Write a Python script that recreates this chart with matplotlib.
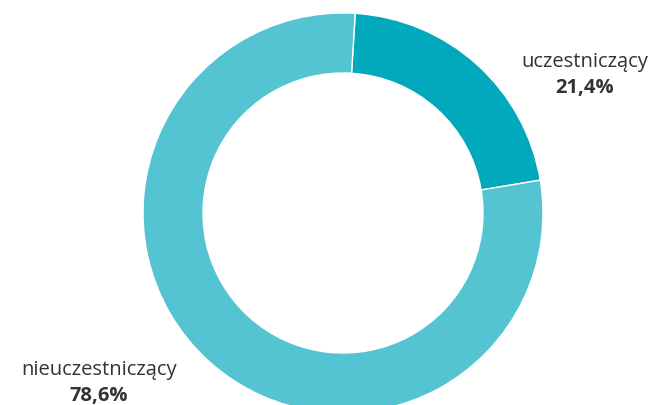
import matplotlib.pyplot as plt

labels = ["uczestniczący", "nieuczestniczący"]
values = [21.4, 78.6]
pct_text = ["21,4%", "78,6%"]
colors = ["#02a9bc", "#55c4d2"]

fig = plt.figure(figsize=(6.55, 4.05), dpi=100)
ax = fig.add_axes([0, 0, 1, 1])

# donut, drawn in pixel coordinates
ax.pie(values, colors=colors, startangle=86.5, counterclock=False,
       center=(343, 192), radius=200, frame=True,
       wedgeprops=dict(width=60, edgecolor="white", linewidth=1))
ax.set_xlim(0, 655)
ax.set_ylim(0, 405)
ax.set_aspect("equal")
ax.axis("off")

font = "Open Sans"
txt_col = "#333333"
fs = 14.5
ax.text(585, 343, labels[0], ha="center", va="center", fontsize=fs,
        family=font, color=txt_col)
ax.text(585, 317, pct_text[0], ha="center", va="center", fontsize=fs,
        family=font, color=txt_col, fontweight="bold")
ax.text(99, 35, labels[1], ha="center", va="center", fontsize=fs,
        family=font, color=txt_col)
ax.text(99, 9, pct_text[1], ha="center", va="center", fontsize=fs,
        family=font, color=txt_col, fontweight="bold")

fig.savefig("out.png", dpi=100)
